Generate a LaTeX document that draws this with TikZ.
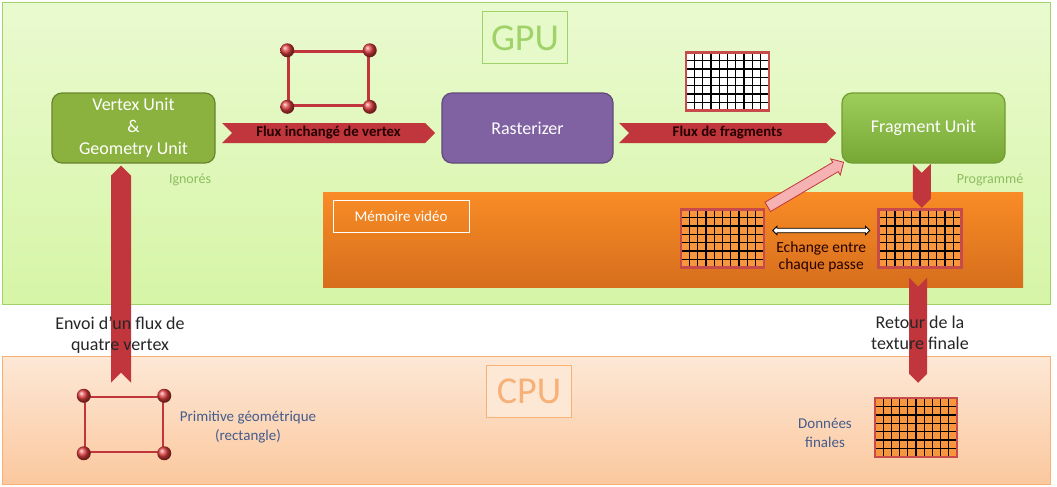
\documentclass[tikz,border=0pt]{standalone}
\usepackage{fontspec}
\setmainfont{Carlito}
\usepackage{xcolor}
\usepackage{tikz}
\usetikzlibrary{arrows.meta,positioning,shapes.arrows,shapes.symbols,calc}

\definecolor{gpuclair}{RGB}{234,250,208}
\definecolor{gpuvert}{RGB}{214,245,166}
\definecolor{gpubord}{RGB}{160,210,105}
\definecolor{cpuclair}{RGB}{253,232,214}
\definecolor{cpuorange}{RGB}{251,200,158}
\definecolor{cpubord}{RGB}{247,176,118}
\definecolor{unitvert}{RGB}{139,178,63}
\definecolor{fragvert}{RGB}{140,196,62}
\definecolor{rastviolet}{RGB}{128,98,163}
\definecolor{rubanrouge}{RGB}{192,54,60}
\definecolor{boule}{RGB}{222,60,60}
\definecolor{memorange}{RGB}{249,140,38}
\definecolor{memfonce}{RGB}{214,110,28}
\definecolor{grillerouge}{RGB}{200,75,75}
\definecolor{grilleorange}{RGB}{247,150,60}
\definecolor{rose}{RGB}{246,178,178}
\definecolor{textbleu}{RGB}{68,92,140}
\definecolor{textvert}{RGB}{140,190,95}

\tikzset{
  zone/.style={rectangle,line width=1pt,inner sep=0pt},
  titre/.style={line width=1pt,minimum width=85,minimum height=52,font=\fontsize{38}{40}\selectfont},
  unit/.style={draw,rounded corners=10pt,line width=1.2pt,text=white,align=center,
    minimum width=163,minimum height=70,font=\fontsize{18}{22}\selectfont},
  ruban/.style={signal,signal from=west,signal to=east,fill=rubanrouge,minimum height=20,
    inner sep=0pt,text=black!85!red,font=\bfseries\fontsize{14.8}{16}\selectfont},
  fleche/.style={signal,fill=rubanrouge,minimum width=18,inner sep=0pt},
  prim/.style={draw=rubanrouge,line width=2.5pt,minimum width=80,minimum height=54},
  grille/.style={draw=grillerouge,line width=2.5pt,minimum width=83,minimum height=58,
    path picture={
      \path (path picture bounding box.north west) coordinate (nw)
            (path picture bounding box.south east) coordinate (se);
      \foreach \i in {1,...,9}
        \draw[black,line width=1.3pt] ($(nw)!\i/10!(nw -| se)$) -- ($(nw |- se)!\i/10!(se)$);
      \foreach \j in {1,...,6}
        \draw[black,line width=1.3pt] ($(nw)!\j/7!(nw |- se)$) -- ($(nw -| se)!\j/7!(se)$);
    }},
  legende/.style={align=center,text=textbleu,font=\fontsize{15}{19}\selectfont},
  note/.style={text=textvert,inner sep=1pt,font=\fontsize{14}{16}\selectfont},
  texte/.style={align=center,text=black!85,font=\fontsize{18}{21}\selectfont}
}

\begin{document}
\begin{tikzpicture}[x=1pt,y=-1pt]
\useasboundingbox (0,0) rectangle (1057,487);

% GPU / CPU zones
\node[zone,top color=gpuclair,bottom color=gpuvert,draw=gpubord,minimum width=1048,minimum height=301] (gpu) at (526,153.5) {};
\node[zone,top color=cpuclair,bottom color=cpuorange,draw=cpubord,minimum width=1048,minimum height=128] (cpu) at (526,420) {};
\node[titre,fill=gpuclair!80!gpuvert,draw=gpubord,text=gpubord] (gputxt) at (525,38) {GPU};
\node[titre,fill=cpuclair,draw=cpubord,text=cpubord] (cputxt) at (529,391) {CPU};

% units
\node[unit,fill=unitvert,draw=unitvert!75!black] (vu) at (133.5,128) {Vertex Unit\\\&\\Geometry Unit};
\node[unit,fill=rastviolet,draw=rastviolet!75!black,minimum width=171] (ras) at (527.5,128) {Rasterizer};
\node[unit,top color=fragvert!85!white,bottom color=fragvert!85!black,draw=fragvert!80!black] (frag) at (923.5,128) {Fragment Unit};
\node[note] (ign) at (190,180) {Ignorés};
\node[note] (prog) at (990,180) {Programmé};

% flux
\node[ruban,minimum width=213] (fluxv) at ($(vu.east)!0.5!(ras.west)+(0,5)$) {Flux inchangé de vertex};
\node[ruban,minimum width=217] (fluxf) at ($(ras.east)!0.5!(frag.west)+(0,5)$) {Flux de fragments};
\node[prim,above=16pt of fluxv] (quad) {};
\foreach \c in {north west,north east,south west,south east}
  \shade[ball color=boule] (quad.\c) circle (7);
\node[grille,fill=white,above=11pt of fluxf] (fragtex) {};

% video memory
\node[zone,top color=memorange,middle color=memorange,bottom color=memfonce,minimum width=700,minimum height=95] (mem) at (673,239.5) {};
\node[draw=white,line width=1pt,text=white,minimum width=136,minimum height=32,anchor=north west,
  font=\fontsize{15}{17}\selectfont] (memtxt) at ($(mem.north west)+(10,8)$) {Mémoire vidéo};
\node[grille,fill=grilleorange] (tampon) at (722.5,238.5) {};
\node[grille,fill=grilleorange] (cible) at (920,238.5) {};
\node[double arrow,fill=white,draw=black,line width=0.8pt,minimum height=97,inner sep=1.8pt,
  double arrow head extend=2pt] (echange) at ($(tampon.east)!0.5!(cible.west)+(0,-8)$) {};
\node[align=center,text=black!85!red,below=5pt of echange,font=\fontsize{15.5}{17}\selectfont] (echtxt) {Echange entre\\chaque passe};
\node[single arrow,rotate=30.5,fill=rose,draw=rubanrouge,line width=0.8pt,minimum height=88,
  inner sep=5pt,single arrow head extend=4pt] (rappel) at ($(tampon.north east)!0.5!(frag.south west)$) {};
\node[fleche,signal to=south,signal from=north,minimum height=26] (passe) at ($(frag.south)!0.5!(cible.north)$) {};

% CPU side
\node[prim,minimum width=78,minimum height=55] (rect) at (124,424.5) {};
\foreach \c in {north west,north east,south west,south east}
  \shade[ball color=boule] (rect.\c) circle (7);
\node[grille,fill=grilleorange,minimum width=82,minimum height=59] (finale) at (916,427.5) {};
\node[fleche,signal to=north,signal from=south,minimum width=20,minimum height=197] (envoi)
  at ($(rect.north |- vu.south)!0.5!(rect.north)+(-3,-5.5)$) {};
\node[fleche,signal to=south,signal from=north,minimum height=87] (retour)
  at ($(cible.south)!0.5!(finale.north)+(0,-2.5)$) {};
\node[texte] (envoitxt) at (120,335) {Envoi d’un flux de\\quatre vertex};
\node[texte] (retourtxt) at (920,333) {Retour de la\\texture finale};
\node[legende] (primtxt) at (248,427) {Primitive géométrique\\(rectangle)};
\node[legende] (donnees) at (825,433) {Données\\finales};
\end{tikzpicture}
\end{document}
